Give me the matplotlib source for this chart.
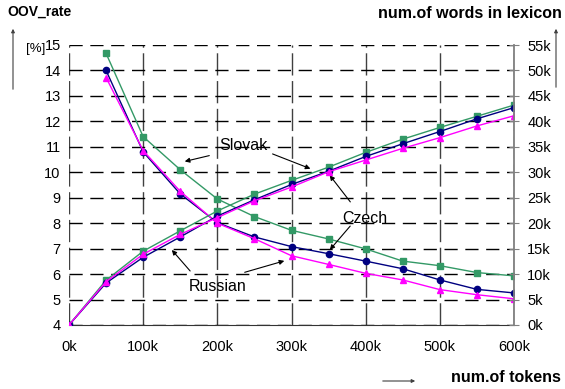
import matplotlib
matplotlib.use('Agg')
import matplotlib.pyplot as plt
from matplotlib.ticker import FuncFormatter

plt.rcParams['font.family'] = ['Liberation Sans', 'DejaVu Sans']

# tokens in the corpus
tokens = [0, 50000, 100000, 150000, 200000, 250000, 300000,
          350000, 400000, 450000, 500000, 550000, 600000]

# OOV rate [%], measured from 50k tokens on
oov_slovak = [14.67, 11.4, 10.1, 8.95, 8.26, 7.72, 7.38, 6.99, 6.51, 6.33, 6.06, 5.93]
oov_czech = [14.0, 10.8, 9.15, 8.02, 7.46, 7.08, 6.80, 6.51, 6.21, 5.77, 5.40, 5.26]
oov_russian = [13.72, 10.85, 9.25, 8.0, 7.39, 6.72, 6.38, 6.03, 5.77, 5.39, 5.19, 5.03]

# lexicon size (words)
lex_slovak = [0, 8800, 14500, 18500, 22400, 25700, 28400, 31000, 33900, 36500, 38800, 41000, 43200]
lex_czech = [0, 8250, 13300, 17300, 21400, 24600, 27600, 30200, 33100, 35600, 38000, 40500, 42700]
lex_russian = [0, 8500, 13900, 17800, 21100, 24400, 27100, 30100, 32400, 34700, 36800, 39100, 41100]

c_sk = '#339966'
c_cz = '#000080'
c_ru = '#FF00FF'

fig = plt.figure(figsize=(5.65, 3.89), dpi=100)
ax = fig.add_axes([69/565, 1-325/389, 445/565, 280/389])
ax2 = ax.twinx()

ax.set_xlim(0, 600000)
ax.set_ylim(4, 15)
ax2.set_ylim(0, 55000)
ax.set_xticks(range(0, 600001, 100000))
ax.set_yticks(range(4, 16))
ax2.set_yticks(range(0, 55001, 5000))
ax.xaxis.set_major_formatter(FuncFormatter(lambda v, p: '%dk' % (v/1000)))
ax2.yaxis.set_major_formatter(FuncFormatter(lambda v, p: '%dk' % (v/1000)))

# grid
ax.yaxis.grid(True, linestyle=(0, (9.5, 5.5)), color='black', lw=1)
ax.xaxis.grid(True, linestyle=(0, (16, 4)), color='#404040', lw=1)
ax.set_axisbelow(True)

for s in ['top', 'left', 'right']:
    ax.spines[s].set_visible(False)
for s in ['top', 'left', 'bottom']:
    ax2.spines[s].set_visible(False)
ax.spines['bottom'].set_color('#333333')
ax2.spines['right'].set_color('#808080')
ax2.spines['right'].set_linewidth(1.3)

ax.tick_params(axis='x', length=0, pad=11, labelsize=10.5)
ax.tick_params(axis='y', length=0, pad=6, labelsize=10.5)
ax2.tick_params(axis='y', direction='inout', length=7, color='#808080', pad=6, labelsize=10.5)

# OOV curves (left axis)
ax.plot(tokens[1:], oov_slovak, '-s', color=c_sk, lw=1, ms=4.5)
ax.plot(tokens[1:], oov_czech, '-o', color=c_cz, lw=1, ms=4.5)
ax.plot(tokens[1:], oov_russian, '-^', color=c_ru, lw=1, ms=5)

# lexicon curves (right axis)
ax2.plot(tokens, lex_slovak, '-s', color=c_sk, lw=1, ms=4.5)
ax2.plot(tokens, lex_czech, '-o', color=c_cz, lw=1, ms=4.5)
ax2.plot(tokens, lex_russian, '-^', color=c_ru, lw=1, ms=5)
ax2.set_zorder(ax.get_zorder() + 1)
ax2.patch.set_visible(False)

# language labels with arrows
arr = dict(arrowstyle='-|>', color='black', lw=0.8, mutation_scale=7)
ax.text(234600, 11.07, 'Slovak', ha='center', va='center', fontsize=11.5)
ax.annotate('', xy=(152400, 10.40), xytext=(192800, 10.68), arrowprops=arr)
ax.annotate('', xy=(329000, 10.10), xytext=(271000, 10.76), arrowprops=arr)
ax.text(399000, 8.20, 'Czech', ha='center', va='center', fontsize=11.5)
ax.annotate('', xy=(349200, 9.97), xytext=(381600, 8.75), arrowprops=arr)
ax.annotate('', xy=(349200, 6.87), xytext=(381600, 7.97), arrowprops=arr)
ax.text(200900, 5.53, 'Russian', ha='center', va='center', fontsize=11.5)
ax.annotate('', xy=(136200, 7.03), xytext=(165800, 6.04), arrowprops=arr)
ax.annotate('', xy=(293900, 6.55), xytext=(233300, 6.04), arrowprops=arr)

# axis titles
fig.text(7/565, 1-12/389, 'OOV_rate', fontsize=10, fontweight='bold', ha='left', va='center')
fig.text(45/565, 1-49/389, '[%]', fontsize=9.5, ha='right', va='center')
fig.text(562/565, 1-13/389, 'num.of words in lexicon', fontsize=11.5, fontweight='bold',
         ha='right', va='center')
fig.text(561/565, 1-377/389, 'num.of tokens', fontsize=11.5, fontweight='bold',
         ha='right', va='center')

farr = dict(arrowstyle='-|>', color='#404040', lw=0.8, mutation_scale=5)
fig.add_artist(plt.Annotation('', xy=(13/565, 1-26/389), xytext=(13/565, 1-92/389),
                              xycoords='figure fraction', arrowprops=farr))
fig.add_artist(plt.Annotation('', xy=(556/565, 1-26/389), xytext=(556/565, 1-90/389),
                              xycoords='figure fraction', arrowprops=farr))
fig.add_artist(plt.Annotation('', xy=(418/565, 1-381/389), xytext=(380/565, 1-381/389),
                              xycoords='figure fraction', arrowprops=farr))

fig.savefig('out.png', dpi=100)
